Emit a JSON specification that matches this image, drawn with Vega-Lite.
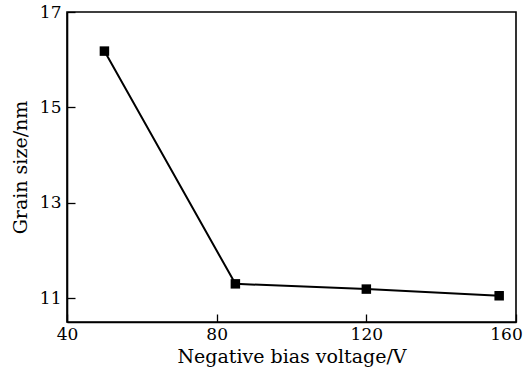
{
  "$schema": "https://vega.github.io/schema/vega-lite/v6.json",
  "width": 449,
  "height": 310,
  "autosize": {"type": "none"},
  "padding": {"left": 67, "top": 12, "right": 8, "bottom": 50},
  "background": "white",
  "config": {
    "view": {"stroke": "black", "strokeWidth": 1.6},
    "font": "DejaVu Serif",
    "axis": {
      "grid": false,
      "domainColor": "black",
      "domainWidth": 1.6,
      "tickColor": "black",
      "tickWidth": 1.3,
      "tickSize": -8,
      "labelColor": "black",
      "titleColor": "black",
      "labelFont": "DejaVu Serif",
      "titleFont": "DejaVu Serif",
      "labelFontSize": 17,
      "titleFontSize": 19,
      "titleFontWeight": "normal"
    }
  },
  "data": {
    "values": [
      {"voltage": 50, "size": 16.18},
      {"voltage": 85, "size": 11.3},
      {"voltage": 120, "size": 11.19},
      {"voltage": 155.5, "size": 11.05}
    ]
  },
  "encoding": {
    "x": {
      "field": "voltage",
      "type": "quantitative",
      "scale": {"domain": [40, 160], "nice": false},
      "axis": {"values": [40, 80, 120, 160], "title": "Negative bias voltage/V", "labelPadding": 12, "titlePadding": 5, "labelFlush": false, "labelOffset": {"expr": "datum.value == 160 ? -10 : 0"}}
    },
    "y": {
      "field": "size",
      "type": "quantitative",
      "scale": {"domain": [10.5, 17], "nice": false, "zero": false},
      "axis": {"values": [11, 13, 15, 17], "title": "Grain size/nm", "labelPadding": 14, "titlePadding": 9, "labelFlush": false}
    }
  },
  "layer": [
    {"mark": {"type": "line", "color": "black", "strokeWidth": 2}},
    {"mark": {"type": "square", "color": "black", "size": 90, "opacity": 1, "filled": true}}
  ]
}
